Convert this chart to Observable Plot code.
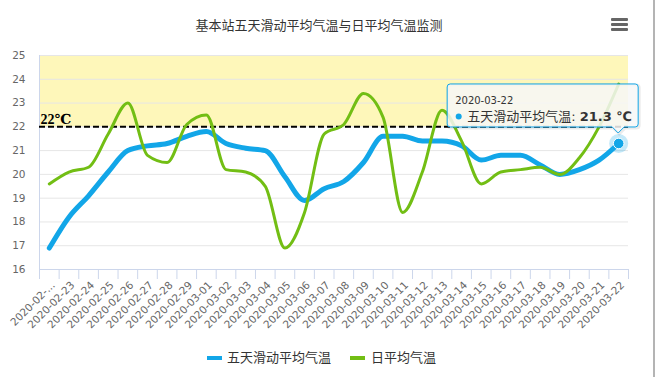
<!DOCTYPE html>
<html lang="zh">
<head>
<meta charset="utf-8">
<script src="https://cdn.jsdelivr.net/npm/d3@7"></script>
<script src="https://cdn.jsdelivr.net/npm/@observablehq/plot@0.6"></script>
<style>
  html,body{margin:0;padding:0;background:#fff;}
  #chart{position:relative;width:655px;height:377px;overflow:hidden;background:#fff;}
  #chart svg{position:absolute;left:0;top:0;}
  .title{position:absolute;top:17px;left:0;width:638px;text-align:center;font:13px "Noto Sans CJK SC",sans-serif;color:#333;line-height:16px;}
  .menu{position:absolute;left:611px;width:17px;height:2.5px;background:#666;border-radius:1px;}
  .edge{position:absolute;left:653px;top:0;width:1.5px;height:377px;background:#b4b4b4;}
  .legend-item{position:absolute;top:349px;font:13px "Noto Sans CJK SC",sans-serif;color:#333;line-height:16px;white-space:nowrap;}
  .legend-swatch{position:absolute;width:15px;height:4px;top:356px;}
</style>
</head>
<body>
<div id="chart"></div>
<script>
// ---------- data ----------
const title = "基本站五天滑动平均气温与日平均气温监测";
const seriesNames = ["五天滑动平均气温", "日平均气温"];
const seriesColors = ["#12a6e8", "#72be14"];
const dates = [
  "2020-02-22","2020-02-23","2020-02-24","2020-02-25","2020-02-26","2020-02-27",
  "2020-02-28","2020-02-29","2020-03-01","2020-03-02","2020-03-03","2020-03-04",
  "2020-03-05","2020-03-06","2020-03-07","2020-03-08","2020-03-09","2020-03-10",
  "2020-03-11","2020-03-12","2020-03-13","2020-03-14","2020-03-15","2020-03-16",
  "2020-03-17","2020-03-18","2020-03-19","2020-03-20","2020-03-21","2020-03-22"
];
const tickLabels = [
  "2020-02-...","2020-02-23","2020-02-24","2020-02-25","2020-02-26","2020-02-27",
  "2020-02-28","2020-02-29","2020-03-01","2020-03-02","2020-03-03","2020-03-04",
  "2020-03-05","2020-03-06","2020-03-07","2020-03-08","2020-03-09","2020-03-10",
  "2020-03-11","2020-03-12","2020-03-13","2020-03-14","2020-03-15","2020-03-16",
  "2020-03-17","2020-03-18","2020-03-19","2020-03-20","2020-03-21","2020-03-22"
];
const movingAvg = [
  16.9, 18.2, 19.1, 20.1, 21.0, 21.2, 21.3, 21.6, 21.8, 21.3,
  21.1, 21.0, 19.9, 18.9, 19.4, 19.7, 20.5, 21.6, 21.6, 21.4,
  21.4, 21.2, 20.6, 20.8, 20.8, 20.4, 20.0, 20.2, 20.6, 21.3
];
const dailyAvg = [
  19.6, 20.1, 20.3, 21.7, 23.0, 20.8, 20.5, 22.1, 22.5, 20.2,
  20.1, 19.5, 16.9, 18.4, 21.7, 22.1, 23.4, 22.4, 18.4, 20.1,
  22.7, 21.4, 19.6, 20.1, 20.2, 20.3, 20.0, 20.7, 22.0, 23.8
];
const yTicks = [16, 17, 18, 19, 20, 21, 22, 23, 24, 25];
const warmBand = [22, 25];
const threshold = [22];
const unit = "℃";

// ---------- chart ----------
const n = dates.length;
const rows = dates.map((d, i) => ({i, date: d, avg5: movingAvg[i], daily: dailyAvg[i]}));
const idx = d3.range(n);
const bounds = d3.range(n + 1).map(k => k - 0.5);
const last = rows[n - 1];

const plot = Plot.plot({
  width: 655,
  height: 377,
  marginLeft: 39,
  marginRight: 27,
  marginTop: 55,
  marginBottom: 108,
  x: {type: "linear", domain: [-0.5, n - 0.5]},
  y: {domain: [yTicks[0], yTicks[yTicks.length - 1]]},
  style: {fontFamily: "'DejaVu Sans', 'Noto Sans CJK SC', sans-serif", fontSize: "10.5px", background: "transparent", overflow: "visible"},
  marks: [
    Plot.rect([warmBand], {y1: d => d[0], y2: d => d[1], fill: "#fef7ba"}),
    Plot.gridY(yTicks, {stroke: "#e6e6e6", strokeOpacity: 1}),
    Plot.ruleX([-0.5], {stroke: "#ccd6eb"}),
    Plot.axisY(yTicks, {tickSize: 0, tickPadding: 14, label: null, fill: "#666", fontSize: 10.5}),
    Plot.ruleY(threshold, {stroke: "#000", strokeWidth: 2, strokeDasharray: "6,3"}),
    Plot.text(threshold, {y: d => d, frameAnchor: "left", text: d => `${d}${unit}`, textAnchor: "start", lineAnchor: "bottom", dx: 1, dy: -3, fontWeight: "bold", fontSize: 14, fontFamily: "'Liberation Serif', 'DejaVu Serif', serif", fill: "#000"}),
    Plot.ruleY([yTicks[0]], {stroke: "#ccd6eb"}),
    Plot.axisX(bounds, {tickSize: 10, stroke: "#ccd6eb", fill: "none", label: null}),
    Plot.axisX(idx, {tickSize: 0, tickPadding: 11, tickRotate: -45, textAnchor: "end", lineAnchor: "top", dx: 1, tickFormat: i => tickLabels[i], label: null, fill: "#666", fontSize: 10.5}),
    Plot.line(rows, {x: "i", y: "avg5", stroke: seriesColors[0], strokeWidth: 5, curve: "monotone-x", strokeLinejoin: "round", strokeLinecap: "round"}),
    Plot.line(rows, {x: "i", y: "daily", stroke: seriesColors[1], strokeWidth: 3, curve: "monotone-x", strokeLinejoin: "round", strokeLinecap: "round"}),
    Plot.dot([last], {x: "i", y: "avg5", r: 9.5, fill: seriesColors[0], fillOpacity: 0.25}),
    Plot.dot([last], {x: "i", y: "avg5", r: 5.3, fill: seriesColors[0], stroke: "#fff", strokeWidth: 1})
  ]
});

const chart = document.getElementById("chart");
chart.appendChild(plot);

// title, menu, page edge
const t = document.createElement("div");
t.className = "title"; t.textContent = title; chart.appendChild(t);
[18.3, 23.3, 28.3].forEach(top => {
  const m = document.createElement("div");
  m.className = "menu"; m.style.top = top + "px"; chart.appendChild(m);
});
const edge = document.createElement("div"); edge.className = "edge"; chart.appendChild(edge);

// legend
const legendPos = [{sw: 207, tx: 227}, {sw: 350, tx: 371}];
seriesNames.forEach((name, k) => {
  const sw = document.createElement("div");
  sw.className = "legend-swatch";
  sw.style.left = legendPos[k].sw + "px";
  sw.style.background = seriesColors[k];
  chart.appendChild(sw);
  const tx = document.createElement("div");
  tx.className = "legend-item";
  tx.style.left = legendPos[k].tx + "px";
  tx.textContent = name;
  chart.appendChild(tx);
});

// tooltip anchored to the last point via the plot's scales
const xs = plot.scale("x"), ys = plot.scale("y");
const px = xs.apply(last.i), py = ys.apply(last.avg5);
const R = px + 20, B = py - 16, L = R - 191, T = B - 43;
const ov = d3.select(chart).append("svg").attr("width", 655).attr("height", 377);
const tipPath = `M${L+3},${T} H${R-3} Q${R},${T} ${R},${T+3} V${B-3} Q${R},${B} ${R-3},${B} H${px+6} L${px},${B+6} L${px-6},${B} H${L+3} Q${L},${B} ${L},${B-3} V${T+3} Q${L},${T} ${L+3},${T} Z`;
ov.append("path").attr("d", tipPath).attr("transform", "translate(1,1)")
  .attr("fill", "none").attr("stroke", "#000").attr("stroke-opacity", 0.08).attr("stroke-width", 3);
ov.append("path").attr("d", tipPath).attr("fill", "rgba(247,247,247,0.85)")
  .attr("stroke", seriesColors[0]).attr("stroke-width", 1);
ov.append("text").attr("x", L + 8).attr("y", T + 20)
  .attr("font-family", "'DejaVu Sans', sans-serif").attr("font-size", 10).attr("fill", "#333")
  .text(last.date);
ov.append("circle").attr("cx", L + 11.5).attr("cy", T + 32.5).attr("r", 3).attr("fill", seriesColors[0]);
const line2 = ov.append("text").attr("x", L + 20).attr("y", T + 37)
  .attr("font-family", "'Noto Sans CJK SC', 'DejaVu Sans', sans-serif").attr("font-size", 13).attr("fill", "#333");
line2.append("tspan").text(seriesNames[0]);
line2.append("tspan").attr("font-family", "'DejaVu Sans', sans-serif").text(": ");
line2.append("tspan").attr("font-family", "'DejaVu Sans', sans-serif").attr("font-weight", "bold").text(`${last.avg5} ${unit}`);
</script>
</body>
</html>
